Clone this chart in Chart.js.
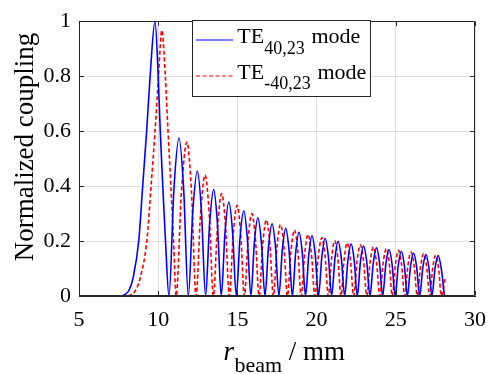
<!DOCTYPE html>
<html>
<head>
<meta charset="utf-8">
<script src="https://cdn.jsdelivr.net/npm/chart.js@4/dist/chart.umd.min.js"></script>
<style>
  html, body { margin: 0; padding: 0; background: #ffffff; }
  #wrap { width: 497px; height: 374px; }
</style>
</head>
<body>
<div id="wrap"><canvas id="c" width="497" height="374"></canvas></div>
<script>
// ---- Data ----
// TE(40,23) mode (blue, solid)
const blueX = [7.7, 7.85, 8.15, 8.42, 8.77, 9.02, 9.27, 9.49, 9.80, 10.00, 10.13, 10.29, 10.46, 10.68,
  10.995, 11.31, 11.605, 11.90,
  12.185, 12.47, 12.73, 12.99,
  13.245, 13.50, 13.74, 13.98,
  14.22, 14.46, 14.695, 14.93,
  15.165, 15.40, 15.625, 15.85,
  16.07, 16.29, 16.515, 16.74,
  16.965, 17.19, 17.405, 17.62,
  17.835, 18.05, 18.26, 18.47,
  18.68, 18.89, 19.095, 19.30,
  19.505, 19.71, 19.915, 20.12,
  20.33, 20.54, 20.745, 20.95,
  21.155, 21.36, 21.565, 21.77,
  21.975, 22.18, 22.375, 22.57,
  22.765, 22.96, 23.165, 23.37,
  23.575, 23.78, 23.975, 24.17,
  24.37, 24.57, 24.765, 24.96,
  25.155, 25.35, 25.54, 25.73,
  25.925, 26.12, 26.315, 26.51,
  26.705, 26.90, 27.09, 27.28,
  27.475, 27.67, 27.87, 28.07];
const blueY = [0, 0.004, 0.02, 0.067, 0.2, 0.4, 0.6, 0.8, 1.0, 0.8, 0.6, 0.4, 0.2, 0,
  0.391, 0.575, 0.391, 0,
  0.309, 0.455, 0.309, 0,
  0.263, 0.387, 0.263, 0,
  0.233, 0.342, 0.233, 0,
  0.211, 0.310, 0.211, 0,
  0.194, 0.285, 0.194, 0,
  0.179, 0.263, 0.179, 0,
  0.167, 0.246, 0.167, 0,
  0.158, 0.232, 0.158, 0,
  0.149, 0.219, 0.149, 0,
  0.142, 0.209, 0.142, 0,
  0.135, 0.199, 0.135, 0,
  0.129, 0.189, 0.129, 0,
  0.124, 0.182, 0.124, 0,
  0.119, 0.175, 0.119, 0,
  0.115, 0.169, 0.115, 0,
  0.111, 0.163, 0.111, 0,
  0.106, 0.156, 0.106, 0,
  0.103, 0.151, 0.103, 0,
  0.100, 0.147, 0.100, 0];

// TE(-40,23) mode (red, dashed)
const redX = [8.1, 8.25, 8.56, 8.87, 9.28, 9.55, 9.80, 10.02, 10.23, 10.45, 10.62, 10.80, 10.97, 11.13,
  11.47, 11.81, 12.10, 12.39,
  12.675, 12.96, 13.22, 13.48,
  13.745, 14.01, 14.25, 14.49,
  14.735, 14.98, 15.21, 15.44,
  15.675, 15.91, 16.14, 16.37,
  16.60, 16.83, 17.05, 17.27,
  17.495, 17.72, 17.94, 18.16,
  18.38, 18.60, 18.815, 19.03,
  19.245, 19.46, 19.675, 19.89,
  20.11, 20.33, 20.535, 20.74,
  20.945, 21.15, 21.345, 21.54,
  21.735, 21.93, 22.135, 22.34,
  22.55, 22.76, 22.965, 23.17,
  23.375, 23.58, 23.785, 23.99,
  24.195, 24.40, 24.59, 24.78,
  24.975, 25.17, 25.365, 25.56,
  25.76, 25.96, 26.16, 26.36,
  26.56, 26.76, 26.95, 27.14,
  27.33, 27.52, 27.70, 27.88,
  28.10];
const redY = [0, 0.004, 0.02, 0.067, 0.2, 0.4, 0.6, 0.8, 0.967, 0.8, 0.6, 0.4, 0.2, 0,
  0.381, 0.56, 0.381, 0,
  0.299, 0.44, 0.299, 0,
  0.254, 0.373, 0.254, 0,
  0.224, 0.33, 0.224, 0,
  0.204, 0.30, 0.204, 0,
  0.188, 0.277, 0.188, 0,
  0.177, 0.26, 0.177, 0,
  0.163, 0.24, 0.163, 0,
  0.152, 0.224, 0.152, 0,
  0.144, 0.212, 0.144, 0,
  0.137, 0.201, 0.137, 0,
  0.131, 0.193, 0.131, 0,
  0.126, 0.186, 0.126, 0,
  0.121, 0.178, 0.121, 0,
  0.117, 0.172, 0.117, 0,
  0.113, 0.166, 0.113, 0,
  0.109, 0.160, 0.109, 0,
  0.105, 0.154, 0.105, 0,
  0.101, 0.148, 0.101, 0,
  0.062];

const xTicks = [5, 10, 15, 20, 25, 30];
const yTicks = [0, 0.2, 0.4, 0.6, 0.8, 1];
const yTickLabels = ['0', '0.2', '0.4', '0.6', '0.8', '1'];
const seriesNames = [['TE', '40,23', 'mode'], ['TE', '-40,23', 'mode']];
const yTitle = 'Normalized coupling';
const xTitleParts = ['r', 'beam', ' / mm'];

// ---- styles ----
const SERIF = '"Liberation Serif", "Times New Roman", serif';
const AXIS_COLOR = '#262626';
const GRID_COLOR = 'rgba(38,38,38,0.15)';
const BLUE = '#0000ff';
const RED = '#ff0000';
const DASH = [4, 2.5];

const toPoints = (xs, ys) => xs.map((x, i) => ({ x: x, y: ys[i] }));

const decorPlugin = {
  id: 'decor',
  afterDatasetsDraw(chart) {
    const ctx = chart.ctx;
    const a = chart.chartArea;
    const xs = chart.scales.x, ys = chart.scales.y;
    ctx.save();
    ctx.strokeStyle = AXIS_COLOR;
    ctx.lineWidth = 1;
    const L = Math.round(a.left) + 0.5, R = Math.round(a.right) - 0.5;
    const T = Math.round(a.top) + 0.5, B = Math.round(a.bottom) - 0.5;
    ctx.beginPath();
    ctx.moveTo(L, T); ctx.lineTo(R, T); ctx.lineTo(R, B);
    ctx.moveTo(L, B); ctx.lineTo(R, B);
    ctx.moveTo(L, T); ctx.lineTo(L, B);
    ctx.stroke();
    const tl = 4.5;
    ctx.beginPath();
    xTicks.forEach(v => {
      const px = Math.round(xs.getPixelForValue(v)) + 0.5;
      ctx.moveTo(px, B); ctx.lineTo(px, B - tl);
      ctx.moveTo(px, T); ctx.lineTo(px, T + tl);
    });
    yTicks.forEach(v => {
      const py = Math.round(ys.getPixelForValue(v)) + 0.5;
      ctx.moveTo(L, py); ctx.lineTo(L + tl, py);
      ctx.moveTo(R, py); ctx.lineTo(R - tl, py);
    });
    ctx.stroke();
    ctx.restore();
  },
  afterDraw(chart) {
    const ctx = chart.ctx;
    ctx.save();
    ctx.fillStyle = '#000000';
    // y title
    ctx.save();
    ctx.translate(33, 147);
    ctx.rotate(-Math.PI / 2);
    ctx.font = '27px ' + SERIF;
    ctx.textAlign = 'center';
    ctx.textBaseline = 'alphabetic';
    ctx.fillText(yTitle, 0, 0);
    ctx.restore();

    // x title: italic r, subscript beam, " / mm"
    ctx.textAlign = 'left';
    ctx.textBaseline = 'alphabetic';
    const f1 = 'italic 27px ' + SERIF, f2 = '22px ' + SERIF, f3 = '27px ' + SERIF;
    ctx.font = f1; const w1 = ctx.measureText(xTitleParts[0]).width;
    ctx.font = f2; const w2 = ctx.measureText(xTitleParts[1]).width;
    ctx.font = f3; const w3 = ctx.measureText(xTitleParts[2]).width;
    const x0 = 284 - (w1 + w2 + w3) / 2;
    ctx.font = f1; ctx.fillText(xTitleParts[0], x0, 360);
    ctx.font = f2; ctx.fillText(xTitleParts[1], x0 + w1 + 0.5, 371.5);
    ctx.font = f3; ctx.fillText(xTitleParts[2], x0 + w1 + 0.5 + w2, 360);

    // legend
    const bx = 192.5, by = 20.5, bw = 178, bh = 76;
    ctx.fillStyle = '#ffffff';
    ctx.fillRect(bx, by, bw, bh);
    ctx.strokeStyle = AXIS_COLOR;
    ctx.lineWidth = 1;
    ctx.strokeRect(bx, by, bw, bh);
    const rows = [
      { color: BLUE, dash: [], ly: 40, base: 42.5, subBase: 54.3 },
      { color: RED, dash: DASH, ly: 76, base: 79, subBase: 89 }
    ];
    rows.forEach((r, i) => {
      ctx.save();
      ctx.strokeStyle = r.color;
      ctx.lineWidth = 1.2;
      ctx.setLineDash(r.dash);
      ctx.beginPath();
      ctx.moveTo(196, r.ly); ctx.lineTo(233, r.ly);
      ctx.stroke();
      ctx.restore();
      ctx.fillStyle = '#000000';
      const parts = seriesNames[i];
      let tx = 237.3;
      ctx.font = '22px ' + SERIF;
      ctx.fillText(parts[0], tx, r.base);
      tx += ctx.measureText(parts[0]).width;
      ctx.font = '18px ' + SERIF;
      ctx.fillText(parts[1], tx, r.subBase);
      tx += ctx.measureText(parts[1]).width + 6.8;
      ctx.font = '22px ' + SERIF;
      ctx.fillText(parts[2], tx, r.base);
    });
    ctx.restore();
  }
};

const chart = new Chart(document.getElementById('c'), {
  type: 'line',
  data: {
    datasets: [
      {
        label: seriesNames[0].join(' '),
        data: toPoints(blueX, blueY),
        borderColor: BLUE,
        borderWidth: 1.6,
        pointRadius: 0,
        fill: false,
        cubicInterpolationMode: 'monotone'
      },
      {
        label: seriesNames[1].join(' '),
        data: toPoints(redX, redY),
        borderColor: RED,
        borderWidth: 1.6,
        borderDash: DASH,
        pointRadius: 0,
        fill: false,
        cubicInterpolationMode: 'monotone'
      }
    ]
  },
  options: {
    responsive: false,
    animation: false,
    devicePixelRatio: 1,
    layout: { padding: { top: 10, right: 13, left: 0, bottom: 0 } },
    plugins: { legend: { display: false }, tooltip: { enabled: false } },
    scales: {
      x: {
        type: 'linear',
        min: 5, max: 30,
        afterBuildTicks: s => { s.ticks = xTicks.map(v => ({ value: v })); },
        afterFit: s => { s.height = 78; },
        ticks: {
          font: { family: SERIF, size: 22 },
          color: '#000000',
          padding: 11,
          maxRotation: 0,
          autoSkip: false,
          callback: v => String(v)
        },
        grid: { color: GRID_COLOR, drawTicks: false, lineWidth: 1 },
        border: { display: true, color: AXIS_COLOR, width: 1 }
      },
      y: {
        type: 'linear',
        min: 0, max: 1,
        afterBuildTicks: s => { s.ticks = yTicks.map(v => ({ value: v })); },
        afterFit: s => { s.width = 79; },
        ticks: {
          font: { family: SERIF, size: 22 },
          color: '#000000',
          padding: 8,
          autoSkip: false,
          callback: v => yTickLabels[yTicks.findIndex(t => Math.abs(t - v) < 1e-9)]
        },
        grid: { color: GRID_COLOR, drawTicks: false, lineWidth: 1 },
        border: { display: true, color: AXIS_COLOR, width: 1 }
      }
    }
  },
  plugins: [decorPlugin]
});
</script>
</body>
</html>
